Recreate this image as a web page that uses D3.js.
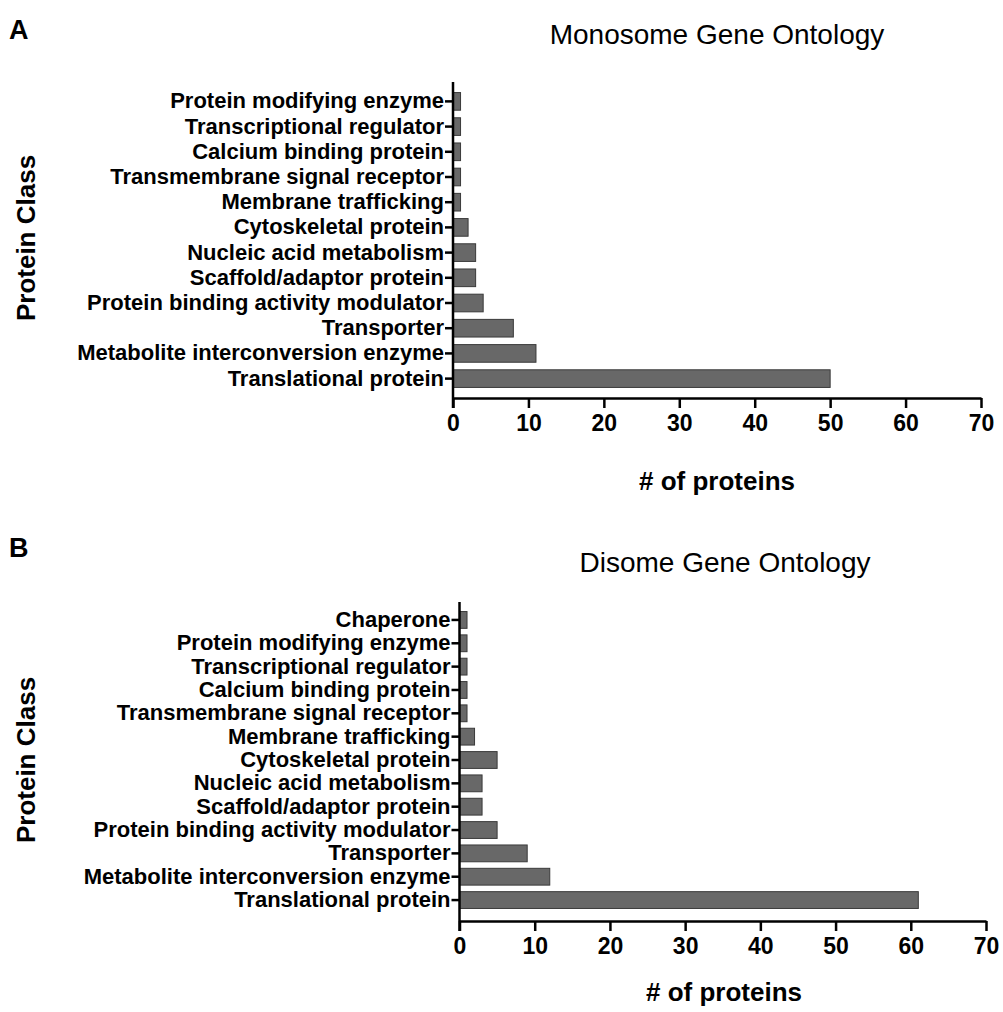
<!DOCTYPE html>
<html>
<head>
<meta charset="utf-8">
<style>
  body { margin: 0; background: #fff; }
  text { font-family: "Liberation Sans", Arial, sans-serif; }
</style>
</head>
<body>
<script src="https://cdn.jsdelivr.net/npm/d3@7"></script>
<script>

    // monosome panel (A)
    var monoClasses = ["Protein modifying enzyme", "Transcriptional regulator", "Calcium binding protein",
        "Transmembrane signal receptor", "Membrane trafficking", "Cytoskeletal protein",
        "Nucleic acid metabolism", "Scaffold/adaptor protein", "Protein binding activity modulator",
        "Transporter", "Metabolite interconversion enzyme", "Translational protein"];
    var monoCounts = [1, 1, 1, 1, 1, 2, 3, 3, 4, 8, 11, 50];

    // disome panel (B)
    var diClasses = ["Chaperone", "Protein modifying enzyme", "Transcriptional regulator", "Calcium binding protein",
        "Transmembrane signal receptor", "Membrane trafficking", "Cytoskeletal protein",
        "Nucleic acid metabolism", "Scaffold/adaptor protein", "Protein binding activity modulator",
        "Transporter", "Metabolite interconversion enzyme", "Translational protein"];
    var diCounts = [1, 1, 1, 1, 1, 2, 5, 3, 3, 5, 9, 12, 61];

    var xTicks = [0, 10, 20, 30, 40, 50, 60, 70];

    var svg = d3.select("body").append("svg")
        .attr("width", 1003)
        .attr("height", 1012);

    drawPanel({
        letter: "A", letterY: 39,
        title: "Monosome Gene Ontology", titleX: 717, titleY: 44,
        x0: 453, x1: 981, top: 82, y0: 85, y1: 395, axisY: 398,
        cats: monoClasses, vals: monoCounts,
        xLabelX: 717, xLabelY: 490, yLabelY: 238, pad: 0.3
    });

    drawPanel({
        letter: "B", letterY: 557,
        title: "Disome Gene Ontology", titleX: 725, titleY: 572,
        x0: 459.5, x1: 986, top: 602, y0: 605, y1: 915, axisY: 921,
        cats: diClasses, vals: diCounts,
        xLabelX: 724, xLabelY: 1001, yLabelY: 760, pad: 0.28
    });

    function drawPanel(p) {
        var g = svg.append("g");

        var x = d3.scaleLinear().domain([0, 70]).range([p.x0, p.x1]);
        var y = d3.scaleBand().domain(p.cats).range([p.y0, p.y1]).padding(p.pad);

        g.append("text")
            .attr("x", 9).attr("y", p.letterY)
            .style("font-size", "27px").style("font-weight", "bold")
            .text(p.letter);

        g.append("text")
            .attr("x", p.titleX).attr("y", p.titleY)
            .attr("text-anchor", "middle")
            .style("font-size", "28px")
            .text(p.title);

        // bars
        g.selectAll("rect")
            .data(p.vals)
            .join("rect")
            .attr("x", x(0))
            .attr("y", function (d, i) { return y(p.cats[i]); })
            .attr("width", function (d) { return x(d) - x(0); })
            .attr("height", y.bandwidth())
            .attr("fill", "#686868")
            .attr("stroke", "#3a3a3a")
            .attr("stroke-width", 1);

        // y axis
        var ya = g.append("g")
            .attr("transform", "translate(" + x(0) + ",0)")
            .call(d3.axisLeft(y).tickSize(8).tickSizeOuter(0).tickPadding(1));
        ya.select(".domain").remove();
        ya.selectAll(".tick line").attr("stroke", "#000").attr("stroke-width", 2.5);
        ya.selectAll(".tick text")
            .attr("fill", "#000")
            .style("font-size", "22px").style("font-weight", "bold");

        // x axis
        var xa = g.append("g")
            .attr("transform", "translate(0," + p.axisY + ")")
            .call(d3.axisBottom(x).tickValues(xTicks).tickSize(10).tickSizeOuter(0).tickPadding(7));
        xa.select(".domain").attr("stroke", "#000").attr("stroke-width", 2.5);
        xa.selectAll(".tick line").attr("stroke", "#000").attr("stroke-width", 2.5);
        xa.selectAll(".tick text")
            .attr("fill", "#000")
            .style("font-size", "23px").style("font-weight", "bold");

        // vertical axis line
        g.append("line")
            .attr("x1", x(0)).attr("x2", x(0))
            .attr("y1", p.top).attr("y2", p.axisY + 10)
            .attr("stroke", "#000").attr("stroke-width", 2.5);

        g.append("text")
            .attr("x", p.xLabelX).attr("y", p.xLabelY)
            .attr("text-anchor", "middle")
            .style("font-size", "26px").style("font-weight", "bold")
            .text("# of proteins");

        g.append("text")
            .attr("transform", "translate(35," + p.yLabelY + ") rotate(-90)")
            .attr("text-anchor", "middle")
            .style("font-size", "26px").style("font-weight", "bold")
            .text("Protein Class");
    }
</script>
</body>
</html>
